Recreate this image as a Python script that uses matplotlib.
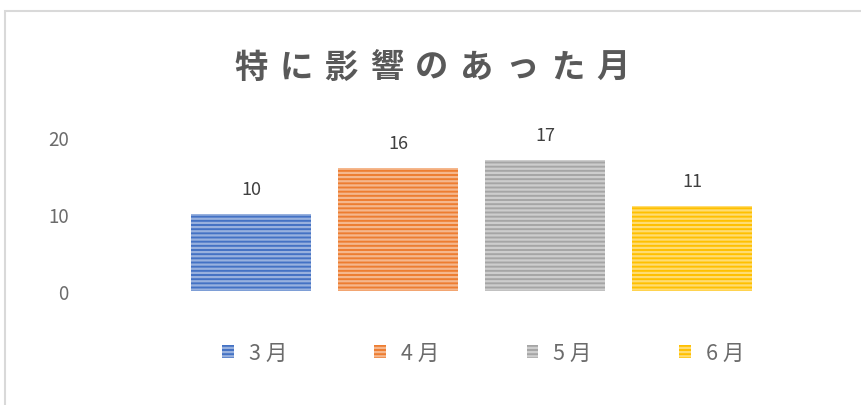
import matplotlib
matplotlib.use("Agg")
import matplotlib.pyplot as plt
from matplotlib.patches import Rectangle, Patch

plt.rcParams['font.family'] = ['Noto Sans CJK JP', 'DejaVu Sans']
plt.rcParams['hatch.linewidth'] = 1.6

title = "特に影響のあった月"
series = ["3 月", "4 月", "5 月", "6 月"]
values = [10, 16, 17, 11]
colors = ["#4472C4", "#ED7D31", "#A5A5A5", "#FFC000"]
yticks = [0, 10, 20]

W, H = 861, 406
fig = plt.figure(figsize=(W / 100, H / 100), dpi=100)

# chart border
fig.patches.append(Rectangle((5 / W, -0.05), 1.0, 1.05 - 12 / H, transform=fig.transFigure,
                             fill=False, edgecolor="#D9D9D9", linewidth=1.5))

left, right, top, bottom = 120, 820, 138, 292
ax = fig.add_axes([left / W, 1 - bottom / H, (right - left) / W, (bottom - top) / H])

xs = list(range(len(values)))
bars = ax.bar(xs, values, width=0.82, color=colors, edgecolor=[(1, 1, 1, 0.45)] * 4,
              hatch="----", linewidth=0)
for x, v in zip(xs, values):
    ax.text(x, v + 2.1, str(v), ha="center", va="bottom", fontsize=13, color="#404040",
            clip_on=False)

ax.set_xlim(-0.89, 3.87)
ax.set_ylim(0, 20)
ax.set_yticks(yticks)
ax.set_yticklabels([str(t) for t in yticks])
ax.set_xticks([])
ax.tick_params(axis="y", length=0, pad=37, labelsize=13.5, labelcolor="#6b6b6b")
for s in ax.spines.values():
    s.set_visible(False)

# title with letter spacing
x0 = 232
step = 45.2
for i, ch in enumerate(title):
    fig.text((x0 + 19 + step * i) / W, 1 - 68 / H, ch, ha="center", va="center",
             fontsize=24, fontweight="bold", color="#595959")

handles = [Patch(facecolor=c, edgecolor=(1, 1, 1, 0.45), hatch="----", linewidth=0) for c in colors]
leg = fig.legend(handles, series, loc="center", bbox_to_anchor=(483 / W, 1 - 354 / H),
                 ncol=4, frameon=False, fontsize=15.5, handlelength=0.55, handleheight=0.55,
                 handletextpad=0.7, columnspacing=4.05, labelcolor="#6b6b6b")

fig.savefig("out.png", dpi=100)
